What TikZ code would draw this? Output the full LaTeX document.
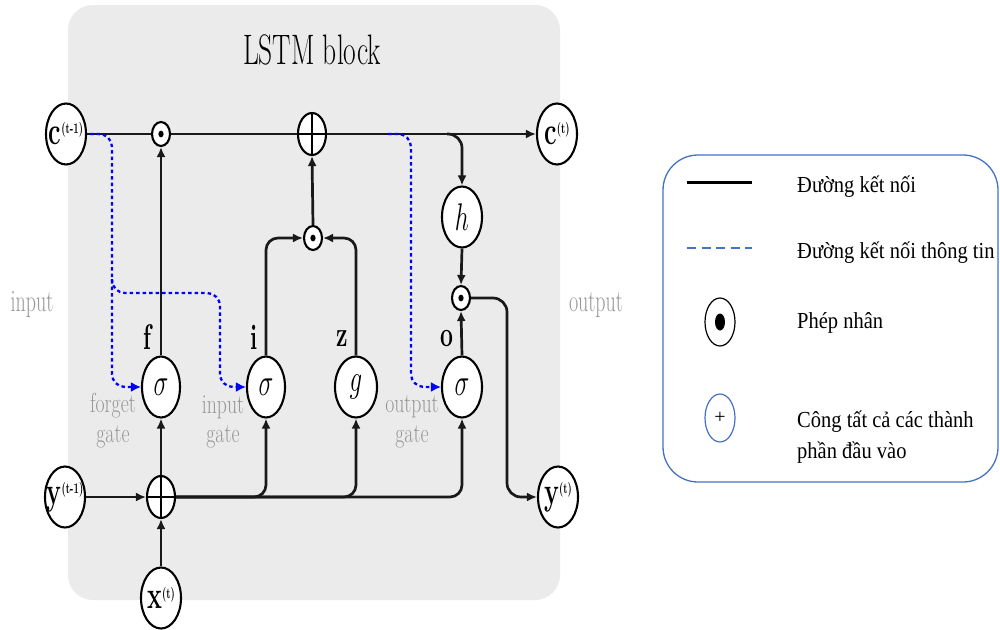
\documentclass[tikz,border=0pt]{standalone}
\usepackage{graphicx}
\usepackage{fontspec}
\newfontfamily\legfont{Liberation Serif}
\usetikzlibrary{shapes.geometric,arrows.meta}
\definecolor{blockgray}{RGB}{235,235,235}
\definecolor{labgray}{RGB}{150,150,150}
\definecolor{infoblue}{RGB}{0,0,255}
\definecolor{legblue}{RGB}{68,114,196}
\newcommand\vs[1]{\scalebox{1}[1.55]{#1}}
\newcommand\gs[1]{\scalebox{1.04}[1.45]{#1}}
\newcommand\ls[1]{\scalebox{1}[1.12]{#1}}
\newcommand\vlab[2]{\fontsize{25}{25}\selectfont\vs{\textbf{#1}\raisebox{7pt}{\fontsize{9.5}{9.5}\selectfont\textbf{(#2)}}}}
\newcommand\glyph[1]{\fontsize{25}{25}\selectfont\vs{$#1$}}
\begin{document}
\begin{tikzpicture}[x=1pt,y=-1pt,
  ell/.style={ellipse, draw, line width=2.1pt, fill=white, inner sep=0pt, minimum width=40pt, minimum height=61pt},
  op/.style={ellipse, draw, line width=2.1pt, fill=white, inner sep=0pt, minimum width=18pt, minimum height=24pt},
  dotop/.style={op, path picture={\fill[black] (path picture bounding box.center) ellipse (2.6pt and 3.4pt);}},
  plusop/.style={op, minimum width=28pt, minimum height=42pt,
     path picture={\draw[black, line width=1.6pt] (path picture bounding box.north) -- (path picture bounding box.south)
                   (path picture bounding box.west) -- (path picture bounding box.east);}},
  conn/.style={draw=black!90, line width=2.7pt},
  arr/.style={-{Latex[length=10pt,width=9pt]}},
  info/.style={draw=infoblue, line width=2.3pt, dash pattern=on 3.5pt off 3pt, rounded corners=13pt, -{Latex[length=10pt,width=10pt]}},
  gatelab/.style={font=\fontsize{23}{23}\selectfont},
  graytxt/.style={text=labgray, font=\fontsize{20}{27}\selectfont, inner sep=0pt},
  gatetxt/.style={text=labgray, font=\fontsize{19}{22}\selectfont, inner sep=0pt},
  legtxt/.style={font=\legfont\fontsize{20.5}{24}\selectfont, anchor=base west, inner sep=0pt},
  legsym/.style={ellipse, draw, line width=1.2pt, inner sep=0pt, minimum width=30pt, minimum height=48pt}
]
\useasboundingbox (0,0) rectangle (1000,629);
\fill[white] (0,0) rectangle (1000,629);
% block
\node[fill=blockgray, rounded corners=25pt, minimum width=492pt, minimum height=595pt, inner sep=0pt] (block) at (314,302.5) {};
\node (title) at (312,50) {\fontsize{27.5}{27.5}\selectfont\vs{LSTM block}};
\node[graytxt] (inlab) at (32,305) {\vs{input}};
\node[graytxt] (outlab) at (596,305) {\vs{output}};

% nodes
\node[ell, label=center:{\vlab{c}{t-1}}] (cprev) at (66,134) {};
\node[dotop] (m1) at (161,134) {};
\node[plusop] (p1) at (312,134) {};
\node[ell, label=center:{\vlab{c}{t}}] (cnext) at (557,134) {};
\node[ell] (h) at (462,217) {\glyph{h}};
\node[dotop] (m2) at (313,238) {};
\node[dotop] (m3) at (461,298) {};
\node[ell, minimum width=38pt] (sf) at (161,387) {\glyph{\sigma}};
\node[ell, minimum width=38pt] (si) at (266,387) {\glyph{\sigma}};
\node[ell, minimum width=42pt] (g) at (356,387) {\glyph{g}};
\node[ell] (so) at (462,387) {\glyph{\sigma}};
\node[ell, label=center:{\vlab{y}{t-1}}] (yprev) at (65,497) {};
\node[plusop] (p2) at (161,497) {};
\node[ell, label=center:{\vlab{x}{t}}] (xin) at (161,598) {};
\node[ell, label=center:{\vlab{y}{t}}] (ynext) at (558,497) {};

% gate labels
\node[gatelab] (lf) at (148,337) {\vs{\textbf{f}}};
\node[gatelab] (li) at (254,337) {\vs{\textbf{i}}};
\node[gatelab] (lz) at (342,339) {\vs{\textbf{z}}};
\node[gatelab] (lo) at (447,339) {\vs{\textbf{o}}};
\node[gatetxt] (fg1) at (113,406) {\gs{forget}};
\node[gatetxt] (fg2) at (113,437) {\gs{gate}};
\node[gatetxt] (ig1) at (223,407) {\gs{input}};
\node[gatetxt] (ig2) at (223,437) {\gs{gate}};
\node[gatetxt] (og1) at (412,407) {\gs{output}};
\node[gatetxt] (og2) at (412,437) {\gs{gate}};

% connectors
\draw[conn] (cprev.east) -- (m1.west);
\draw[conn] (m1.east) -- (p1.west);
\draw[conn,arr] (p1.east) -- (cnext.west);
\draw[conn,arr] (sf.north) -- (m1.south);
\draw[conn,arr] (m2.north) -- (p1.south);
\draw[conn,arr,rounded corners=12pt] (si.north) |- (m2.west);
\draw[conn,arr,rounded corners=12pt] (g.north) |- (m2.east);
\coordinate (hb) at (447,134);
\draw[conn,arr,rounded corners=14pt] (hb) -| (h.north);
\draw[conn,arr] (h.south) -- (m3.north);
\draw[conn,arr] (so.north) -- (m3.south);
\coordinate (yb) at (507,497);
\draw[conn,arr,rounded corners=14pt] (m3.east) -| (yb) -- (ynext.west);
\draw[conn,arr] (yprev.east) -- (p2.west);
\draw[conn,arr] (xin.north) -- (p2.south);
\draw[conn,arr] (p2.north) -- (sf.south);
\draw[conn,arr,rounded corners=12pt] (p2.east) -| (si.south);
\draw[conn,arr,rounded corners=12pt] (p2.east) -| (g.south);
\draw[conn,arr,rounded corners=12pt] (p2.east) -| (so.south);

% information (peephole) connectors
\coordinate (i1) at (90,134);
\coordinate (i2) at (112,279);
\coordinate (i3) at (388,134);
\draw[info] (i1) -- (112,134) -- (112,387) -- (sf.west);
\draw[info] (i2) -- (112,293) -- (220,293) -- (220,387) -- (si.west);
\draw[info] (i3) -- (411,134) -- (411,387) -- (so.west);

% legend
\draw[legblue, line width=1.3pt, rounded corners=35pt] (663,155) rectangle (998,482);
\coordinate (la) at (687,182);
\coordinate (lb) at (752,182);
\draw[black, line width=3pt] (la) -- (lb);
\coordinate (lc) at (687,248);
\coordinate (ld) at (752,248);
\draw[legblue, line width=2.5pt, dash pattern=on 9pt off 5.5pt] (lc) -- (ld);
\node[legsym, path picture={\fill[black] (path picture bounding box.center) ellipse (5pt and 8.5pt);}] (legdot) at (720,322) {};
\node[legsym, draw=legblue] (legplus) at (720,418) {\legfont\fontsize{20}{20}\selectfont +};
\node[legtxt] (t1) at (797,192) {\ls{Đường kết nối}};
\node[legtxt] (t2) at (797,258) {\ls{Đường kết nối thông tin}};
\node[legtxt] (t3) at (797,328) {\ls{Phép nhân}};
\node[legtxt] (t4) at (797,427) {\ls{Công tất cả các thành}};
\node[legtxt] (t5) at (797,458) {\ls{phần đầu vào}};
\end{tikzpicture}
\end{document}
